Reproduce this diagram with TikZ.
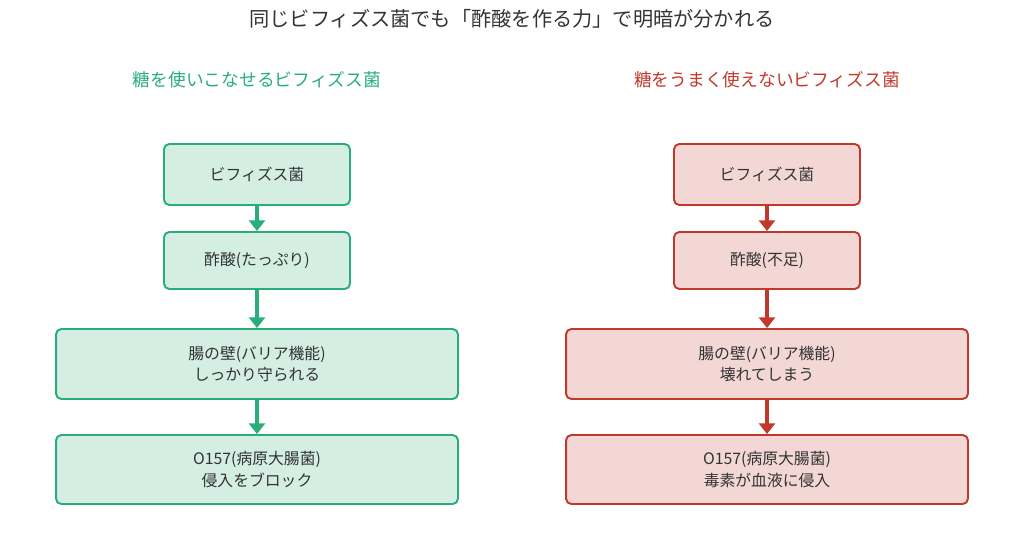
\documentclass[tikz,border=0pt]{standalone}
\usepackage{fontspec}
\setmainfont{Noto Sans CJK JP}
\usetikzlibrary{arrows.meta}
\definecolor{okline}{HTML}{27AE7A}
\definecolor{okfill}{HTML}{D4EEE4}
\definecolor{ngline}{HTML}{C0392B}
\definecolor{ngfill}{HTML}{F2D7D5}
\definecolor{ink}{HTML}{333333}
\tikzset{
  okbox/.style={draw=okline,fill=okfill,line width=1.1pt,rounded corners=3pt,
    align=center,text=ink,font=\fontsize{9}{12.5}\selectfont,inner sep=0pt},
  ngbox/.style={okbox,draw=ngline,fill=ngfill},
  okarr/.style={draw=okline,fill=okline,line width=2pt,-{Triangle[length=6pt,width=9pt]}},
  ngarr/.style={okarr,draw=ngline,fill=ngline},
}
\begin{document}
\begin{tikzpicture}[x=0.02cm,y=-0.02cm]
    \useasboundingbox (0,0) rectangle (1024,533);
    \node[text=ink,font=\fontsize{11.5}{13}\selectfont] (t) at (512,19) {同じビフィズス菌でも「酢酸を作る力」で明暗が分かれる};
    \node[text=okline,font=\fontsize{10.1}{12}\selectfont] (g) at (257,80) {糖を使いこなせるビフィズス菌};
    \node[text=ngline,font=\fontsize{10.1}{12}\selectfont] (r) at (767,80) {糖をうまく使えないビフィズス菌};
    % left column
    \node[okbox,minimum width=3.72cm,minimum height=1.22cm] (a1) at (257,174.5) {ビフィズス菌};
    \node[okbox,minimum width=3.72cm,minimum height=1.14cm] (a2) at (257,260.5) {酢酸(たっぷり)};
    \node[okbox,minimum width=8.04cm,minimum height=1.4cm] (a3) at (257,364) {腸の壁(バリア機能)\\しっかり守られる};
    \node[okbox,minimum width=8.04cm,minimum height=1.38cm] (a4) at (257,469.5) {O157(病原大腸菌)\\侵入をブロック};
    \draw[okarr] (a1) -- (a2);
    \draw[okarr] (a2) -- (a3);
    \draw[okarr] (a3) -- (a4);
    % right column
    \node[ngbox,minimum width=3.72cm,minimum height=1.22cm] (b1) at (767,174.5) {ビフィズス菌};
    \node[ngbox,minimum width=3.72cm,minimum height=1.14cm] (b2) at (767,260.5) {酢酸(不足)};
    \node[ngbox,minimum width=8.04cm,minimum height=1.4cm] (b3) at (767,364) {腸の壁(バリア機能)\\壊れてしまう};
    \node[ngbox,minimum width=8.04cm,minimum height=1.38cm] (b4) at (767,469.5) {O157(病原大腸菌)\\毒素が血液に侵入};
    \draw[ngarr] (b1) -- (b2);
    \draw[ngarr] (b2) -- (b3);
    \draw[ngarr] (b3) -- (b4);
\end{tikzpicture}
\end{document}
